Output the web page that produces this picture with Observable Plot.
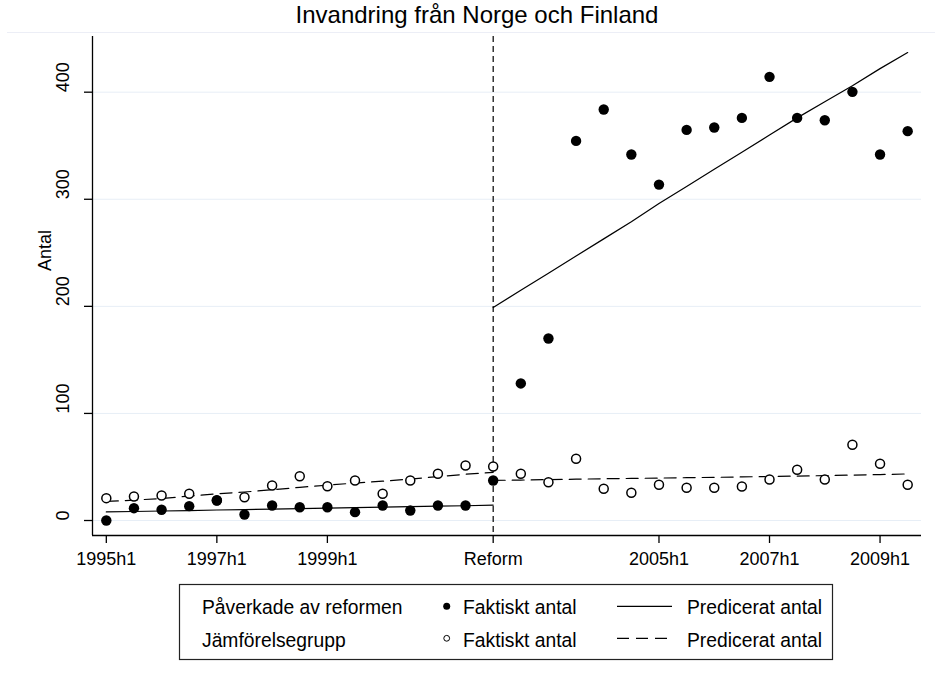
<!DOCTYPE html>
<html>
<head>
<meta charset="utf-8">
<script src="https://cdn.jsdelivr.net/npm/d3@7"></script>
<script src="https://cdn.jsdelivr.net/npm/@observablehq/plot@0.6"></script>
<style>
  html, body { margin: 0; padding: 0; background: #fff; }
  #wrap { position: relative; width: 935px; height: 687px; overflow: hidden; font-family: "Liberation Sans", Arial, sans-serif; }
  #topline { position: absolute; left: 7px; right: 0; top: 32px; height: 1px; background: #eceef6; }
  #title { position: absolute; left: 0; width: 954px; top: 3px; text-align: center; font-size: 24px; line-height: 1; color: #000; white-space: nowrap; }
  #chart { position: absolute; left: 0; top: 0; }
  #legend { position: absolute; left: 0; top: 570px; }
</style>
</head>
<body>
<div id="wrap">
  <div id="topline"></div>
  <div id="title">Invandring från Norge och Finland</div>
  <div id="chart"></div>
  <div id="legend"></div>
</div>
<script>
// ---------- data ----------
const periods = [
  "1995h1","1995h2","1996h1","1996h2","1997h1","1997h2","1998h1","1998h2",
  "1999h1","1999h2","2000h1","2000h2","2001h1","2001h2","2002h1","2002h2",
  "2003h1","2003h2","2004h1","2004h2","2005h1","2005h2","2006h1","2006h2",
  "2007h1","2007h2","2008h1","2008h2","2009h1","2009h2"
];
// Påverkade av reformen – faktiskt antal
const affectedActual = [
  0, 11.5, 10, 13.4, 18.7, 5.6, 14, 12.4, 12.4, 7.8, 14, 9.3, 14, 14, 37.4,
  128, 170, 354.5, 383.8, 341.8, 313.7, 364.8, 367, 376, 414.3, 376, 373.8, 400.3, 341.8, 363.6
];
// Jämförelsegrupp – faktiskt antal
const comparisonActual = [
  20.9, 22.4, 23.4, 25, 19, 21.8, 32.7, 41.4, 32, 37.4, 25, 37.4, 43.6, 51.4, 50.5,
  43.6, 35.8, 57.7, 29.6, 25.9, 33.4, 30.6, 30.6, 31.8, 38.3, 47.4, 38.3, 70.7, 53, 33.4
];
// Predicerat antal (before reform: 1995h1–2002h1, after: 2002h1–2009h2)
const affectedPredBefore = [8.0, 8.4, 8.9, 9.3, 9.8, 10.2, 10.7, 11.1, 11.6, 12.0, 12.5, 12.9, 13.4, 13.8, 14.3];
const affectedPredAfter = [199, 215, 231, 247, 263, 279, 296, 312, 328, 344, 360, 376, 391, 406, 422, 437];
const comparisonPredBefore = [17.8, 19, 20.6, 22.8, 25, 26.6, 28.7, 31, 33, 35, 36.7, 38.7, 41, 43.2, 45];
const comparisonPredAfter = [37.4, 37.8, 38.2, 38.6, 39, 39.3, 39.6, 40, 40.3, 40.7, 41.1, 41.5, 41.9, 42.4, 42.9, 43.5];

const reformPeriod = "2002h1";
const xTickPeriods = ["1995h1","1997h1","1999h1","2002h1","2005h1","2007h1","2009h1"];
const xTickLabels  = ["1995h1","1997h1","1999h1","Reform","2005h1","2007h1","2009h1"];
const yTicks = [0, 100, 200, 300, 400];
const yLabel = "Antal";
const legendRows = ["Påverkade av reformen", "Jämförelsegrupp"];
const legendMarkerLabel = "Faktiskt antal";
const legendLineLabel = "Predicerat antal";

// ---------- build ----------
const idx = p => periods.indexOf(p);
const reformIdx = idx(reformPeriod);
const actual = periods.map((p, i) => ({i, a: affectedActual[i], c: comparisonActual[i]}));
const seg = (arr, start) => arr.map((v, k) => ({i: start + k, v}));
const xTicks = xTickPeriods.map(idx);
const xDomain = [-0.5, periods.length - 0.5];
const yDomain = [-14, 452];

const chart = Plot.plot({
  width: 935,
  height: 570,
  marginTop: 36,
  marginBottom: 35,
  marginLeft: 92,
  marginRight: 14,
  style: {fontFamily: "'Liberation Sans', Arial, sans-serif", fontSize: "18px", color: "#000", background: "transparent"},
  x: {type: "linear", domain: xDomain},
  y: {type: "linear", domain: yDomain},
  marks: [
    Plot.gridY(yTicks, {stroke: "#e7eef6", strokeOpacity: 1, strokeWidth: 1}),
    Plot.ruleX([reformIdx], {stroke: "#000", strokeWidth: 1.2, strokeDasharray: "6,4"}),
    Plot.ruleY([yDomain[0]], {stroke: "#000", strokeWidth: 1.3}),
    Plot.ruleX([xDomain[0]], {stroke: "#000", strokeWidth: 1.3}),
    Plot.axisX(xTicks, {
      tickSize: 8, tickPadding: 9, fontSize: 18, label: null, strokeWidth: 1.3,
      tickFormat: d => xTickLabels[xTicks.indexOf(d)]
    }),
    Plot.axisY(yTicks, {tickSize: 8, tickFormat: () => "", label: null, strokeWidth: 1.3}),
    Plot.text(yTicks, {y: d => d, text: d => String(d), frameAnchor: "left", dx: -29, rotate: -90, fontSize: 18, fill: "#000"}),
    Plot.text([yLabel], {text: d => d, frameAnchor: "left", dx: -47, dy: -15, rotate: -90, fontSize: 18, fill: "#000"}),
    Plot.line(seg(affectedPredBefore, 0), {x: "i", y: "v", stroke: "#000", strokeWidth: 1.2}),
    Plot.line(seg(affectedPredAfter, reformIdx), {x: "i", y: "v", stroke: "#000", strokeWidth: 1.2}),
    Plot.line(seg(comparisonPredBefore, 0), {x: "i", y: "v", stroke: "#000", strokeWidth: 1.2, strokeDasharray: "12,7"}),
    Plot.line(seg(comparisonPredAfter, reformIdx), {x: "i", y: "v", stroke: "#000", strokeWidth: 1.2, strokeDasharray: "12,7"}),
    Plot.dot(actual, {x: "i", y: "c", r: 4.5, fill: "#fff", stroke: "#000", strokeWidth: 1.5}),
    Plot.dot(actual, {x: "i", y: "a", r: 5.2, fill: "#000", stroke: "none"})
  ]
});
document.getElementById("chart").appendChild(chart);

// ---------- legend ----------
const ns = "http://www.w3.org/2000/svg";
const lg = document.createElementNS(ns, "svg");
lg.setAttribute("width", 935);
lg.setAttribute("height", 117);
lg.setAttribute("font-family", "'Liberation Sans', Arial, sans-serif");
lg.setAttribute("font-size", "19.3");
function el(tag, attrs, text) {
  const e = document.createElementNS(ns, tag);
  for (const k in attrs) e.setAttribute(k, attrs[k]);
  if (text != null) e.textContent = text;
  lg.appendChild(e);
  return e;
}
el("rect", {x: 179.5, y: 14.5, width: 653, height: 75, fill: "#fff", stroke: "#222", "stroke-width": 1.2});
const rowBase = [44.3, 76.7];
const rowMid = [36.3, 68.3];
legendRows.forEach((lab, r) => {
  el("text", {x: 202, y: rowBase[r], fill: "#000"}, lab);
  if (r === 0) el("circle", {cx: 446.7, cy: rowMid[r], r: 3.5, fill: "#000"});
  else el("circle", {cx: 446.7, cy: rowMid[r], r: 2.9, fill: "#fff", stroke: "#000", "stroke-width": 1});
  el("text", {x: 463, y: rowBase[r], fill: "#000"}, legendMarkerLabel);
  el("line", {x1: 617, x2: 672, y1: rowMid[r], y2: rowMid[r], stroke: "#000", "stroke-width": 1.2,
    "stroke-dasharray": r === 0 ? "none" : "12,7"});
  el("text", {x: 687, y: rowBase[r], fill: "#000"}, legendLineLabel);
});
document.getElementById("legend").appendChild(lg);
</script>
</body>
</html>
